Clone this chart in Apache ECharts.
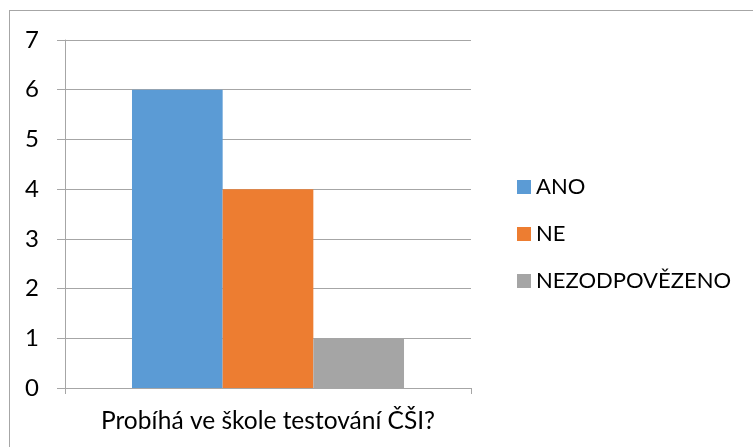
<!DOCTYPE html>
<html>
<head>
<meta charset="utf-8">
<script src="https://cdn.jsdelivr.net/npm/echarts@6/dist/echarts.min.js"></script>
<style>
    html, body { margin: 0; padding: 0; background: #fff; }
    #frame { position: absolute; left: 9px; top: 10px; width: 760px; height: 450px;
             border-left: 1px solid #a6a6a6; border-top: 1px solid #a6a6a6; }
    #chart { position: absolute; left: 0; top: 0; width: 753px; height: 447px; }
</style>
</head>
<body>
<div id="frame"></div>
<div id="chart"></div>
<script>
var categories = ['Probíhá ve škole testování ČŠI?'];
var seriesNames = ['ANO', 'NE', 'NEZODPOVĚZENO'];
var seriesValues = [[6], [4], [1]];
var colors = ['#5b9bd5', '#ed7d31', '#a5a5a5'];
var yTicks = [0, 1, 2, 3, 4, 5, 6, 7];

var font = 'Lato';
var chart = echarts.init(document.getElementById('chart'));

var series = [];
for (var i = 0; i < seriesNames.length; i++) {
    series.push({
        name: seriesNames[i],
        type: 'bar',
        data: seriesValues[i],
        barGap: '0%',
        barCategoryGap: '33%',
        itemStyle: { color: colors[i] }
    });
}

var option = {
    animation: false,
    textStyle: { fontFamily: font },
    grid: { left: 65, top: 40, right: 282, bottom: 59 },
    legend: {
        orient: 'vertical',
        left: 512,
        top: 171,
        itemWidth: 14,
        itemHeight: 14,
        itemGap: 25,
        icon: 'rect',
        data: seriesNames,
        textStyle: { fontFamily: font, fontSize: 22, color: '#000' }
    },
    xAxis: {
        type: 'category',
        data: categories,
        axisLine: { lineStyle: { color: '#a6a6a6', width: 1 } },
        axisTick: { show: true, length: 6, lineStyle: { color: '#a6a6a6' } },
        axisLabel: { margin: 21, fontSize: 24.5, color: '#000', fontFamily: font }
    },
    yAxis: {
        type: 'value',
        min: yTicks[0],
        max: yTicks[yTicks.length - 1],
        interval: 1,
        axisLine: { show: true, lineStyle: { color: '#a6a6a6', width: 1 } },
        axisTick: { show: true, length: 8, lineStyle: { color: '#a6a6a6' } },
        axisLabel: { margin: 26, fontSize: 24, color: '#000', fontFamily: font },
        splitLine: { lineStyle: { color: '#a6a6a6', width: 1 } }
    },
    series: series
};
chart.setOption(option);
</script>
</body>
</html>
